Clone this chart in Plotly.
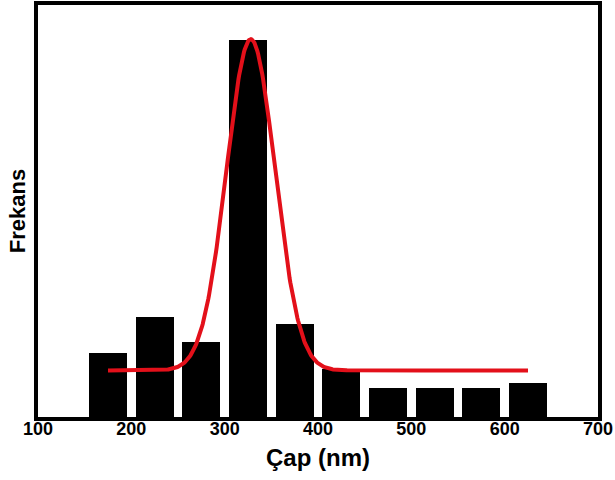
import numpy as np
import plotly.graph_objects as go

# Histogram data (bin centres in nm, frequency in arbitrary units)
bin_centers = [175, 225, 275, 325, 375, 425, 475, 525, 575, 625]
frequencies = [15.5, 24.2, 18.3, 91.5, 22.6, 11.6, 7.0, 7.0, 7.0, 8.3]
bar_width = 41

# Gaussian fit parameters
fit_center = 328.0
fit_sigma = 26.0
fit_amplitude = 80.4
fit_baseline = 11.3
fit_start = 175
fit_end = 625

x_ticks = [100, 200, 300, 400, 500, 600, 700]

xs = np.linspace(fit_start, fit_end, 600)
ys = fit_baseline + fit_amplitude * np.exp(-((xs - fit_center) ** 2) / (2 * fit_sigma ** 2))

fig = go.Figure()
fig.add_trace(go.Bar(x=bin_centers, y=frequencies, width=bar_width,
                     marker=dict(color="black", line=dict(width=0)),
                     showlegend=False, hoverinfo="skip"))
fig.add_trace(go.Scatter(x=xs, y=ys, mode="lines",
                         line=dict(color="#e3101a", width=4),
                         showlegend=False, hoverinfo="skip"))

font_family = "Liberation Sans, Arial, sans-serif"
fig.update_layout(
    width=615, height=480,
    margin=dict(l=38, r=17, t=5, b=63, autoexpand=False),
    plot_bgcolor="white", paper_bgcolor="white",
    font=dict(family=font_family, color="black"),
    bargap=0,
)
fig.update_xaxes(range=[100, 700], tickvals=x_ticks, ticktext=[str(v) for v in x_ticks],
                 showgrid=False, zeroline=False, showline=True, linecolor="black",
                 linewidth=3.5, mirror=True, ticks="", automargin=False,
                 ticklabelstandoff=-7,
                 tickfont=dict(size=18, family=font_family, weight="bold"),
                 title=dict(text="<b>Çap (nm)</b>", font=dict(size=24, family=font_family),
                            standoff=12))
fig.update_yaxes(range=[0, 100], showticklabels=False, showgrid=False, zeroline=False,
                 showline=True, linecolor="black", linewidth=3.5, mirror=True, ticks="",
                 automargin=False,
                 title=dict(text="<b>Frekans</b>", font=dict(size=22, family=font_family),
                            standoff=4))

fig.write_html("out.html", config={"displayModeBar": False},
               post_script="document.body.style.margin='0';")
